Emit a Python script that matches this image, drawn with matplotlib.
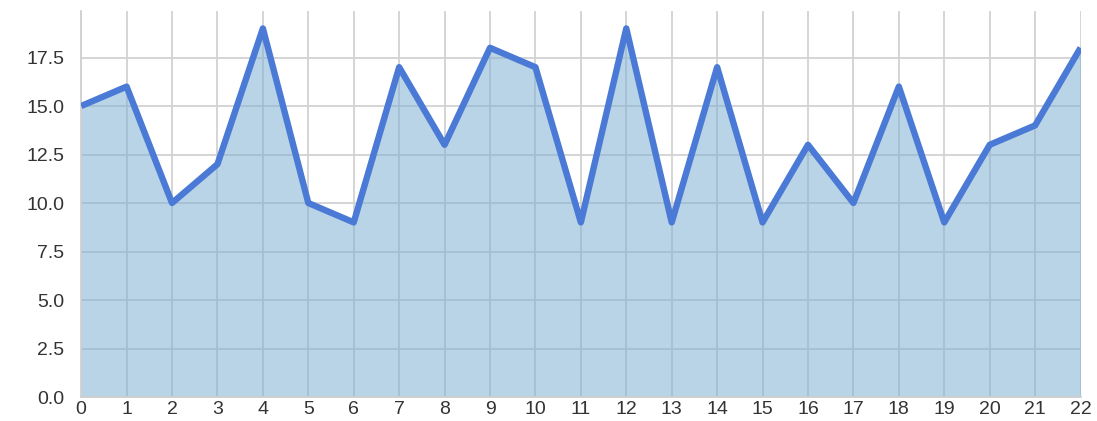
import numpy as np
import matplotlib.pyplot as plt

plt.rcParams['font.family'] = ['Liberation Sans', 'DejaVu Sans']

# series values
x = list(range(23))
values = [15, 16, 10, 12, 19, 10, 9, 17, 13, 18, 17, 9, 19, 9, 17, 9, 13, 10, 16, 9, 13, 14, 18]
y_ticks = [0.0, 2.5, 5.0, 7.5, 10.0, 12.5, 15.0, 17.5]

fig = plt.figure(figsize=(10.97, 4.21), dpi=100)
ax = fig.add_axes([0.074, 0.057, 0.911, 0.917])

ax.fill_between(x, values, 0, color='#7aaed2', alpha=0.52, linewidth=0, zorder=2)
ax.plot(x, values, color='#4a7ad6', linewidth=4.6, solid_joinstyle='round',
        solid_capstyle='butt', zorder=3)

ax.set_xlim(0, 22)
ax.set_ylim(0, 19.9)
ax.set_xticks(x)
ax.set_yticks(y_ticks)
ax.set_yticklabels([f'{t:.1f}' for t in y_ticks])

ax.grid(True, color='#d2d2d2', linewidth=1.3, zorder=1)
ax.set_axisbelow(True)
for side in ['top', 'right']:
    ax.spines[side].set_visible(False)
for side in ['left', 'bottom']:
    ax.spines[side].set_color('#d0d0d0')
    ax.spines[side].set_linewidth(1.3)

ax.tick_params(length=0, labelsize=14, colors='#333333')
ax.tick_params(axis='y', pad=12)
ax.tick_params(axis='x', pad=3)

fig.savefig('out.png', dpi=100)
